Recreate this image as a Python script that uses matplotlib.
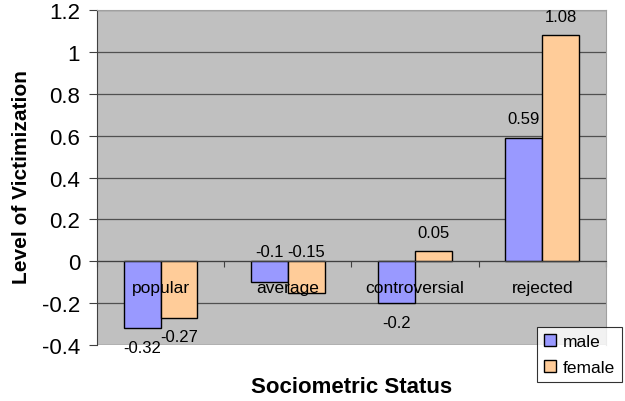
import numpy as np
import matplotlib.pyplot as plt
from matplotlib.ticker import FixedLocator

plt.rcParams['font.family'] = ['Liberation Sans', 'DejaVu Sans']

# data
categories = ['popular', 'average', 'controversial', 'rejected']
male = [-0.32, -0.1, -0.2, 0.59]
female = [-0.27, -0.15, 0.05, 1.08]
# where Excel put each value label: 'above' the bar end / zero line, or 'below'
male_side = ['below', 'above', 'below', 'above']
female_side = ['below', 'above', 'above', 'above']
yticks = [-0.4, -0.2, 0, 0.2, 0.4, 0.6, 0.8, 1, 1.2]

fig = plt.figure(figsize=(6.25, 4.02), dpi=100)
ax = fig.add_axes([0.155, 0.139, 0.8146, 0.8336])
ax.set_facecolor('#C0C0C0')

x = np.arange(len(categories))
w = 0.29
b1 = ax.bar(x - w / 2, male, w, color='#9999FF', edgecolor='black', linewidth=1, label='male', zorder=2)
b2 = ax.bar(x + w / 2, female, w, color='#FFCC99', edgecolor='black', linewidth=1, label='female', zorder=2)


def put_labels(xs, vals, sides):
    for xi, v, s in zip(xs, vals, sides):
        if s == 'above':
            y = max(v, 0) + 0.09 if v >= 0 else 0.045
        else:
            y = min(v, 0) - 0.09
        ax.text(xi, y, f'{v:g}', ha='center', va='center', fontsize=12, zorder=5)


put_labels(x - w / 2, male, male_side)
put_labels(x + w / 2, female, female_side)

# category names sit just under the zero line, in front of the bars
for xi, c in zip(x, categories):
    ax.text(xi, -0.125, c, ha='center', va='center', fontsize=12.5, zorder=5)

ax.set_xlim(-0.5, len(categories) - 0.5)
ax.set_ylim(-0.4, 1.2)
ax.set_yticks(yticks)
ax.set_yticklabels([f'{t:g}' for t in yticks])
ax.tick_params(axis='y', labelsize=16, direction='out', length=6, color='#404040', pad=6)
ax.yaxis.grid(True, color='#505050', linewidth=0.9)
ax.set_axisbelow(True)

# x axis drawn along zero with small ticks between categories
ax.spines['bottom'].set_position(('data', 0))
ax.spines['bottom'].set_color('#404040')
ax.xaxis.set_major_locator(FixedLocator(np.arange(-0.5, len(categories), 1.0)))
ax.set_xticklabels([])
ax.tick_params(axis='x', direction='out', length=4, color='#404040')
ax.spines['left'].set_color('#404040')
ax.spines['top'].set_color('#A0A0A0')
ax.spines['right'].set_color('#A0A0A0')

fig.text(0.034, 0.56, 'Level of Victimization', rotation=90, ha='center', va='center',
         fontsize=15, fontweight='bold')
fig.text(0.563, 0.036, 'Sociometric Status', ha='center', va='center',
         fontsize=16, fontweight='bold')

leg = fig.legend(handles=[b1, b2], loc='lower right', bbox_to_anchor=(0.995, 0.047),
                 fontsize=12.5, frameon=True, fancybox=False, edgecolor='black',
                 handlelength=0.7, handleheight=0.7, handletextpad=0.4,
                 borderpad=0.4, labelspacing=0.65, borderaxespad=0)
leg.get_frame().set_linewidth(0.8)

fig.savefig('out.png', dpi=100)
